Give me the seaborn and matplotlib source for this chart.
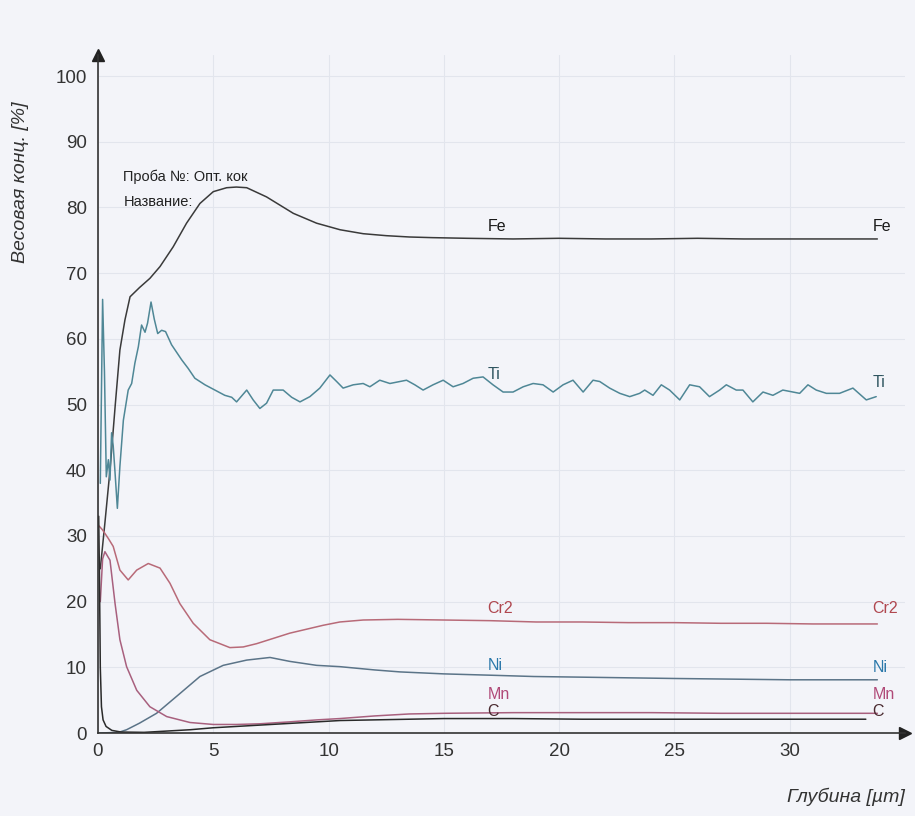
import matplotlib
matplotlib.use("Agg")
import matplotlib.pyplot as plt
import seaborn as sns
from matplotlib.ticker import MultipleLocator

# --- данные (глубина, мкм / концентрация, %) ---
fe_x = [0.1, 0.3, 0.52, 0.75, 0.95, 1.17, 1.39, 1.8, 2.25, 2.69,
        3.26, 3.84, 4.42, 5.0, 5.58, 6.0, 6.45, 7.31, 8.47, 9.48,
        10.5, 11.5, 12.5, 13.5, 14.5, 16, 18, 20, 22, 24,
        26, 28, 30, 32, 33.8]
fe_y = [25, 32, 40, 50, 58.3, 62.9, 66.4, 67.8, 69.2, 71.0,
        74.0, 77.6, 80.6, 82.4, 83.0, 83.1, 83.0, 81.6, 79.1, 77.6,
        76.6, 76.0, 75.7, 75.5, 75.4, 75.3, 75.2, 75.3, 75.2, 75.2,
        75.3, 75.2, 75.2, 75.2, 75.2]

ti_x = [0.1, 0.2, 0.28, 0.36, 0.45, 0.52, 0.59, 0.66, 0.74, 0.84,
        0.95, 1.1, 1.31, 1.46, 1.6, 1.75, 1.89, 2.04, 2.15, 2.3,
        2.44, 2.59, 2.76, 2.93, 3.19, 3.63, 3.91, 4.2, 4.64, 5.07,
        5.5, 5.8, 6.01, 6.45, 6.73, 7.02, 7.31, 7.6, 8.03, 8.4,
        8.76, 9.19, 9.62, 10.06, 10.35, 10.63, 11.07, 11.5, 11.79, 12.22,
        12.66, 13.09, 13.38, 13.74, 14.1, 14.53, 14.97, 15.4, 15.83, 16.27,
        16.7, 17.13, 17.57, 18.0, 18.44, 18.87, 19.3, 19.74, 20.17, 20.6,
        21.04, 21.47, 21.76, 22.19, 22.63, 23.06, 23.49, 23.71, 24.07, 24.43,
        24.79, 25.23, 25.66, 26.09, 26.52, 26.96, 27.25, 27.68, 27.97, 28.4,
        28.84, 29.27, 29.7, 30.14, 30.43, 30.79, 31.15, 31.59, 32.16, 32.74,
        33.32, 33.75]
ti_y = [38.0, 66.0, 55.0, 39.0, 41.6, 38.5, 45.7, 43.7, 39.6, 34.2,
        40.6, 47.6, 52.2, 53.2, 56.3, 58.8, 62.1, 61.0, 62.4, 65.6,
        63.0, 60.8, 61.3, 61.1, 59.1, 56.8, 55.5, 54.0, 53.0, 52.2,
        51.4, 51.1, 50.4, 52.2, 50.7, 49.4, 50.2, 52.2, 52.2, 51.1,
        50.4, 51.2, 52.5, 54.5, 53.5, 52.5, 53.0, 53.2, 52.7, 53.7,
        53.2, 53.5, 53.7, 53.0, 52.2, 53.0, 53.7, 52.7, 53.2, 54.0,
        54.2, 53.0, 51.9, 51.9, 52.7, 53.2, 53.0, 51.9, 53.0, 53.7,
        51.9, 53.7, 53.5, 52.5, 51.7, 51.2, 51.7, 52.2, 51.4, 53.0,
        52.2, 50.7, 53.0, 52.7, 51.2, 52.2, 53.0, 52.2, 52.2, 50.4,
        51.9, 51.4, 52.2, 51.9, 51.7, 53.0, 52.2, 51.7, 51.7, 52.5,
        50.7, 51.2]

cr_x = [0.05, 0.2, 0.45, 0.66, 0.95, 1.31, 1.68, 2.18, 2.69, 3.12,
        3.55, 4.13, 4.85, 5.72, 6.3, 6.88, 8.32, 9.77, 10.49, 11.5,
        13, 15, 17, 19, 21, 23, 25, 27, 29, 31, 33.8]
cr_y = [31.5, 30.9, 29.6, 28.4, 24.8, 23.3, 24.8, 25.8, 25.1, 22.8,
        19.7, 16.7, 14.2, 13.0, 13.1, 13.6, 15.2, 16.4, 16.9, 17.2,
        17.3, 17.2, 17.1, 16.9, 16.9, 16.8, 16.8, 16.7, 16.7, 16.6, 16.6]

ni_x = [0.05, 0.9, 1.24, 1.8, 2.54, 3.55, 4.42, 5.43, 6.45, 7.46, 8.32,
        9.48, 10.49, 12, 13.1, 15, 17, 18.9, 21, 23, 25,
        27.5, 30, 32, 33.8]
ni_y = [0.0, 0.1, 0.5, 1.5, 3.0, 6.0, 8.6, 10.3, 11.1, 11.5, 10.9,
        10.3, 10.1, 9.6, 9.3, 9.0, 8.8, 8.6, 8.5, 8.4, 8.3,
        8.2, 8.1, 8.1, 8.1]

mn_x = [0.1, 0.2, 0.3, 0.52, 0.74, 0.95, 1.24, 1.68, 2.25, 2.98,
        3.99, 5.0, 6.0, 7.0, 8.32, 9.5, 10.49, 12, 13.5, 15,
        18, 21, 24, 27, 30, 33.8]
mn_y = [20.0, 26.5, 27.6, 26.3, 19.7, 14.2, 10.1, 6.5, 4.0, 2.5,
        1.6, 1.3, 1.3, 1.4, 1.7, 2.0, 2.2, 2.6, 2.9, 3.0,
        3.1, 3.1, 3.1, 3.0, 3.0, 3.0]

c_x = [0.03, 0.06, 0.1, 0.15, 0.22, 0.35, 0.6, 1.0, 2.0, 3.0,
       4.0, 5.0, 6.5, 8.0, 9.5, 10.5, 12, 13.5, 15, 18,
       21, 24, 27, 30, 33.3]
c_y = [33.0, 25.0, 10.0, 4.0, 2.0, 1.0, 0.4, 0.15, 0.1, 0.3,
       0.5, 0.8, 1.1, 1.4, 1.7, 1.9, 2.0, 2.1, 2.2, 2.2,
       2.1, 2.1, 2.1, 2.1, 2.1]

elements = ["Fe", "Ti", "Cr2", "Ni", "Mn", "C"]
label_y_mid = [77.1, 54.5, 19.0, 10.3, 5.9, 3.2]
label_y_end = [77.1, 53.4, 19.0, 9.9, 5.9, 3.2]

# --- стиль ---
sns.set_style("white")
plt.rcParams['font.family'] = ['Liberation Sans', 'DejaVu Sans']
bg = '#f3f4f9'

fig = plt.figure(figsize=(9.15, 8.16), dpi=100, facecolor=bg)
ax = fig.add_axes([0.1071, 0.1017, 0.882, 0.8309], facecolor=bg)

series = [
    (fe_x, fe_y, '#3a3a3a', '#1a1a1a'),
    (ti_x, ti_y, '#4f8796', '#2f5560'),
    (cr_x, cr_y, '#b86a78', '#b0474f'),
    (ni_x, ni_y, '#5b7488', '#2a78aa'),
    (mn_x, mn_y, '#a8607e', '#b04a78'),
    (c_x, c_y, '#2a2a2a', '#4a2a30'),
]

for (xs, ys, lc, tc), name, ym, ye in zip(series, elements, label_y_mid, label_y_end):
    sns.lineplot(x=xs, y=ys, ax=ax, color=lc, lw=1.1, sort=False, estimator=None)
    ax.text(16.9, ym, name, color=tc, fontsize=11.5, va='center', ha='left')
    ax.text(33.6, ye, name, color=tc, fontsize=11.5, va='center', ha='left', clip_on=False)

ax.text(1.1, 84.6, "Проба №: Опт. кок", fontsize=10.5, va='center', color='#222222')
ax.text(1.1, 80.9, "Название:", fontsize=10.5, va='center', color='#222222')

ax.set_xlim(0, 35)
ax.set_ylim(0, 103.2)
ax.xaxis.set_minor_locator(MultipleLocator(1))
ax.set_xticks([0, 5, 10, 15, 20, 25, 30])
ax.set_yticks(range(0, 101, 10))
ax.grid(True, which='major', color='#e2e5ed', lw=0.8)

for s in ['top', 'right']:
    ax.spines[s].set_visible(False)
for s in ['left', 'bottom']:
    ax.spines[s].set_color('#333333')
    ax.spines[s].set_linewidth(1.2)

ax.tick_params(axis='x', which='major', direction='inout', length=10, width=1,
               labelsize=13.5, colors='#333333', pad=2)
ax.tick_params(axis='x', which='minor', direction='inout', length=5, width=0.8, colors='#555555')
ax.tick_params(axis='y', which='major', direction='out', length=6, width=1,
               labelsize=13.5, colors='#333333', pad=2)

# стрелки на концах осей
ax.plot(0, 1, '^', color='#222222', ms=9, transform=ax.transAxes, clip_on=False)
ax.plot(1, 0, '>', color='#222222', ms=9, transform=ax.transAxes, clip_on=False)

ax.set_xlabel('')
ax.set_ylabel('')
fig.text(0.022, 0.777, "Весовая конц. [%]", rotation=90, va='center', ha='center',
         fontsize=14, style='italic', color='#333333')
fig.text(0.989, 0.023, "Глубина [µm]", ha='right', va='center',
         fontsize=14, style='italic', color='#333333')

fig.savefig("out.png", dpi=100, facecolor=bg)
